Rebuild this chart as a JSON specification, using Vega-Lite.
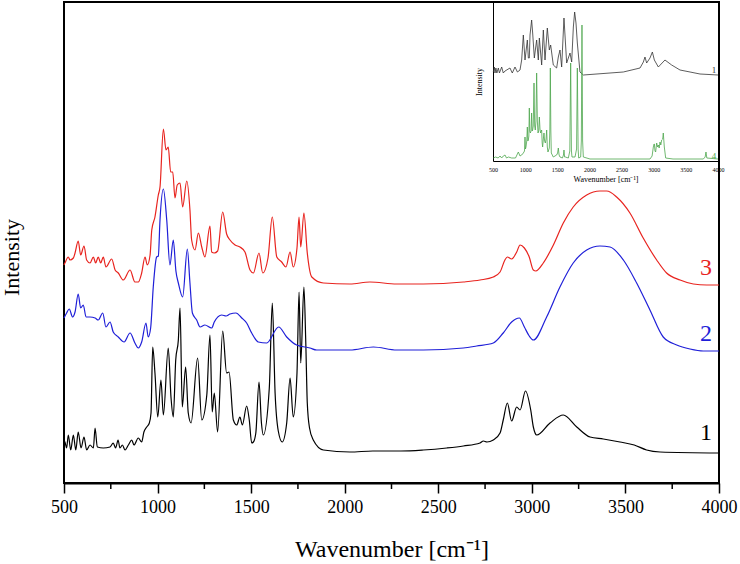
{
  "$schema": "https://vega.github.io/schema/vega-lite/v6.json",
  "width": 655,
  "height": 481,
  "autosize": "none",
  "padding": {"left": 64, "top": 2, "right": 21, "bottom": 81},
  "background": "white",
  "config": {
    "view": {"stroke": "black", "strokeWidth": 2},
    "axis": {"grid": false, "labelFont": "Liberation Serif", "titleFont": "Liberation Serif", "titleFontWeight": "normal", "labelColor": "black", "titleColor": "black"}
  },
  "datasets": {
    "minorticks": [{"wn":750},{"wn":1250},{"wn":1750},{"wn":2250},{"wn":2750},{"wn":3250},{"wn":3750}],
    "main": [
      {"s":"1","wn":500,"v":42},{"s":"1","wn":505,"v":41},{"s":"1","wn":514,"v":35},{"s":"1","wn":523,"v":48},{"s":"1","wn":536,"v":33},{"s":"1","wn":550,"v":48},{"s":"1","wn":563,"v":33},{"s":"1","wn":576,"v":51},{"s":"1","wn":591,"v":35},{"s":"1","wn":607,"v":46},{"s":"1","wn":621,"v":33},{"s":"1","wn":639,"v":38},{"s":"1","wn":657,"v":35},{"s":"1","wn":666,"v":55},{"s":"1","wn":678,"v":36},{"s":"1","wn":710,"v":35},{"s":"1","wn":746,"v":36},{"s":"1","wn":763,"v":40},{"s":"1","wn":776,"v":35},{"s":"1","wn":789,"v":43},{"s":"1","wn":799,"v":35},{"s":"1","wn":812,"v":38},{"s":"1","wn":826,"v":33},{"s":"1","wn":844,"v":38},{"s":"1","wn":862,"v":43},{"s":"1","wn":874,"v":38},{"s":"1","wn":897,"v":45},{"s":"1","wn":915,"v":41},{"s":"1","wn":927,"v":51},{"s":"1","wn":942,"v":56},{"s":"1","wn":956,"v":60},{"s":"1","wn":965,"v":70},{"s":"1","wn":974,"v":136},{"s":"1","wn":986,"v":110},{"s":"1","wn":1001,"v":66},{"s":"1","wn":1018,"v":103},{"s":"1","wn":1031,"v":68},{"s":"1","wn":1057,"v":135},{"s":"1","wn":1072,"v":85},{"s":"1","wn":1084,"v":66},{"s":"1","wn":1097,"v":123},{"s":"1","wn":1111,"v":143},{"s":"1","wn":1120,"v":175},{"s":"1","wn":1132,"v":76},{"s":"1","wn":1150,"v":116},{"s":"1","wn":1164,"v":70},{"s":"1","wn":1179,"v":60},{"s":"1","wn":1214,"v":125},{"s":"1","wn":1236,"v":63},{"s":"1","wn":1263,"v":88},{"s":"1","wn":1280,"v":148},{"s":"1","wn":1292,"v":71},{"s":"1","wn":1303,"v":90},{"s":"1","wn":1321,"v":51},{"s":"1","wn":1348,"v":152},{"s":"1","wn":1369,"v":110},{"s":"1","wn":1382,"v":111},{"s":"1","wn":1405,"v":63},{"s":"1","wn":1423,"v":58},{"s":"1","wn":1440,"v":66},{"s":"1","wn":1453,"v":58},{"s":"1","wn":1476,"v":77},{"s":"1","wn":1490,"v":63},{"s":"1","wn":1503,"v":40},{"s":"1","wn":1512,"v":41},{"s":"1","wn":1525,"v":50},{"s":"1","wn":1542,"v":101},{"s":"1","wn":1555,"v":60},{"s":"1","wn":1565,"v":48},{"s":"1","wn":1597,"v":95},{"s":"1","wn":1613,"v":180},{"s":"1","wn":1628,"v":90},{"s":"1","wn":1645,"v":52},{"s":"1","wn":1666,"v":41},{"s":"1","wn":1690,"v":60},{"s":"1","wn":1708,"v":105},{"s":"1","wn":1725,"v":66},{"s":"1","wn":1745,"v":110},{"s":"1","wn":1756,"v":191},{"s":"1","wn":1765,"v":120},{"s":"1","wn":1782,"v":196},{"s":"1","wn":1792,"v":140},{"s":"1","wn":1800,"v":80},{"s":"1","wn":1812,"v":55},{"s":"1","wn":1832,"v":43},{"s":"1","wn":1886,"v":33},{"s":"1","wn":2028,"v":31},{"s":"1","wn":2150,"v":32},{"s":"1","wn":2300,"v":32},{"s":"1","wn":2420,"v":33},{"s":"1","wn":2545,"v":35},{"s":"1","wn":2634,"v":37},{"s":"1","wn":2723,"v":40},{"s":"1","wn":2741,"v":42},{"s":"1","wn":2760,"v":41},{"s":"1","wn":2794,"v":43},{"s":"1","wn":2830,"v":50},{"s":"1","wn":2847,"v":63},{"s":"1","wn":2869,"v":80},{"s":"1","wn":2892,"v":62},{"s":"1","wn":2919,"v":76},{"s":"1","wn":2937,"v":73},{"s":"1","wn":2966,"v":92},{"s":"1","wn":2994,"v":73},{"s":"1","wn":3008,"v":56},{"s":"1","wn":3026,"v":48},{"s":"1","wn":3097,"v":60},{"s":"1","wn":3168,"v":68},{"s":"1","wn":3240,"v":56},{"s":"1","wn":3311,"v":46},{"s":"1","wn":3382,"v":44},{"s":"1","wn":3471,"v":41},{"s":"1","wn":3547,"v":38},{"s":"1","wn":3613,"v":33},{"s":"1","wn":3685,"v":31},{"s":"1","wn":4000,"v":30},

      {"s":"3","wn":500,"v":218},{"s":"3","wn":505,"v":220},{"s":"3","wn":523,"v":226},{"s":"3","wn":532,"v":223},{"s":"3","wn":550,"v":225},{"s":"3","wn":559,"v":230},{"s":"3","wn":576,"v":242},{"s":"3","wn":589,"v":228},{"s":"3","wn":607,"v":237},{"s":"3","wn":621,"v":223},{"s":"3","wn":639,"v":220},{"s":"3","wn":657,"v":226},{"s":"3","wn":669,"v":220},{"s":"3","wn":683,"v":226},{"s":"3","wn":696,"v":220},{"s":"3","wn":710,"v":226},{"s":"3","wn":724,"v":216},{"s":"3","wn":755,"v":224},{"s":"3","wn":773,"v":213},{"s":"3","wn":790,"v":210},{"s":"3","wn":817,"v":203},{"s":"3","wn":853,"v":213},{"s":"3","wn":879,"v":201},{"s":"3","wn":897,"v":201},{"s":"3","wn":915,"v":210},{"s":"3","wn":933,"v":226},{"s":"3","wn":945,"v":218},{"s":"3","wn":960,"v":228},{"s":"3","wn":969,"v":253},{"s":"3","wn":986,"v":266},{"s":"3","wn":1004,"v":288},{"s":"3","wn":1013,"v":296},{"s":"3","wn":1031,"v":354},{"s":"3","wn":1045,"v":333},{"s":"3","wn":1057,"v":336},{"s":"3","wn":1070,"v":311},{"s":"3","wn":1081,"v":311},{"s":"3","wn":1093,"v":285},{"s":"3","wn":1105,"v":298},{"s":"3","wn":1120,"v":300},{"s":"3","wn":1134,"v":276},{"s":"3","wn":1156,"v":302},{"s":"3","wn":1173,"v":273},{"s":"3","wn":1182,"v":243},{"s":"3","wn":1200,"v":233},{"s":"3","wn":1218,"v":250},{"s":"3","wn":1236,"v":236},{"s":"3","wn":1253,"v":226},{"s":"3","wn":1280,"v":257},{"s":"3","wn":1289,"v":231},{"s":"3","wn":1303,"v":230},{"s":"3","wn":1321,"v":232},{"s":"3","wn":1348,"v":271},{"s":"3","wn":1369,"v":249},{"s":"3","wn":1387,"v":243},{"s":"3","wn":1414,"v":238},{"s":"3","wn":1440,"v":236},{"s":"3","wn":1467,"v":231},{"s":"3","wn":1494,"v":213},{"s":"3","wn":1512,"v":210},{"s":"3","wn":1542,"v":230},{"s":"3","wn":1562,"v":210},{"s":"3","wn":1590,"v":225},{"s":"3","wn":1613,"v":266},{"s":"3","wn":1637,"v":226},{"s":"3","wn":1663,"v":221},{"s":"3","wn":1686,"v":216},{"s":"3","wn":1708,"v":231},{"s":"3","wn":1725,"v":216},{"s":"3","wn":1745,"v":235},{"s":"3","wn":1756,"v":266},{"s":"3","wn":1765,"v":236},{"s":"3","wn":1782,"v":270},{"s":"3","wn":1800,"v":230},{"s":"3","wn":1824,"v":206},{"s":"3","wn":1886,"v":200},{"s":"3","wn":2028,"v":199},{"s":"3","wn":2135,"v":201},{"s":"3","wn":2278,"v":199},{"s":"3","wn":2420,"v":199},{"s":"3","wn":2634,"v":201},{"s":"3","wn":2723,"v":203},{"s":"3","wn":2794,"v":206},{"s":"3","wn":2830,"v":211},{"s":"3","wn":2856,"v":223},{"s":"3","wn":2869,"v":226},{"s":"3","wn":2892,"v":224},{"s":"3","wn":2919,"v":231},{"s":"3","wn":2937,"v":238},{"s":"3","wn":2960,"v":235},{"s":"3","wn":2986,"v":226},{"s":"3","wn":3008,"v":213},{"s":"3","wn":3021,"v":212},{"s":"3","wn":3061,"v":220},{"s":"3","wn":3115,"v":238},{"s":"3","wn":3168,"v":260},{"s":"3","wn":3221,"v":276},{"s":"3","wn":3293,"v":288},{"s":"3","wn":3364,"v":292},{"s":"3","wn":3400,"v":292},{"s":"3","wn":3453,"v":286},{"s":"3","wn":3524,"v":270},{"s":"3","wn":3595,"v":245},{"s":"3","wn":3667,"v":223},{"s":"3","wn":3720,"v":210},{"s":"3","wn":3792,"v":203},{"s":"3","wn":3863,"v":199},{"s":"3","wn":3934,"v":198},{"s":"3","wn":4000,"v":198},

      {"s":"2","wn":500,"v":165},{"s":"2","wn":514,"v":170},{"s":"2","wn":528,"v":174},{"s":"2","wn":546,"v":166},{"s":"2","wn":559,"v":171},{"s":"2","wn":576,"v":189},{"s":"2","wn":589,"v":175},{"s":"2","wn":603,"v":178},{"s":"2","wn":618,"v":166},{"s":"2","wn":639,"v":166},{"s":"2","wn":666,"v":165},{"s":"2","wn":683,"v":163},{"s":"2","wn":707,"v":170},{"s":"2","wn":724,"v":156},{"s":"2","wn":746,"v":161},{"s":"2","wn":763,"v":151},{"s":"2","wn":790,"v":146},{"s":"2","wn":821,"v":141},{"s":"2","wn":853,"v":150},{"s":"2","wn":879,"v":140},{"s":"2","wn":897,"v":135},{"s":"2","wn":915,"v":141},{"s":"2","wn":938,"v":160},{"s":"2","wn":950,"v":146},{"s":"2","wn":963,"v":155},{"s":"2","wn":977,"v":196},{"s":"2","wn":995,"v":226},{"s":"2","wn":1004,"v":227},{"s":"2","wn":1013,"v":263},{"s":"2","wn":1031,"v":294},{"s":"2","wn":1049,"v":263},{"s":"2","wn":1066,"v":218},{"s":"2","wn":1084,"v":243},{"s":"2","wn":1098,"v":212},{"s":"2","wn":1111,"v":200},{"s":"2","wn":1134,"v":186},{"s":"2","wn":1159,"v":234},{"s":"2","wn":1173,"v":200},{"s":"2","wn":1186,"v":170},{"s":"2","wn":1209,"v":163},{"s":"2","wn":1227,"v":156},{"s":"2","wn":1253,"v":158},{"s":"2","wn":1289,"v":155},{"s":"2","wn":1303,"v":161},{"s":"2","wn":1343,"v":168},{"s":"2","wn":1366,"v":167},{"s":"2","wn":1387,"v":169},{"s":"2","wn":1419,"v":170},{"s":"2","wn":1450,"v":165},{"s":"2","wn":1476,"v":160},{"s":"2","wn":1503,"v":150},{"s":"2","wn":1538,"v":141},{"s":"2","wn":1583,"v":140},{"s":"2","wn":1647,"v":156},{"s":"2","wn":1690,"v":146},{"s":"2","wn":1743,"v":138},{"s":"2","wn":1814,"v":135},{"s":"2","wn":1850,"v":133},{"s":"2","wn":2028,"v":133},{"s":"2","wn":2153,"v":136},{"s":"2","wn":2278,"v":133},{"s":"2","wn":2420,"v":133},{"s":"2","wn":2634,"v":135},{"s":"2","wn":2705,"v":137},{"s":"2","wn":2794,"v":140},{"s":"2","wn":2847,"v":150},{"s":"2","wn":2892,"v":161},{"s":"2","wn":2933,"v":165},{"s":"2","wn":2960,"v":156},{"s":"2","wn":2986,"v":147},{"s":"2","wn":3008,"v":143},{"s":"2","wn":3079,"v":166},{"s":"2","wn":3150,"v":196},{"s":"2","wn":3221,"v":220},{"s":"2","wn":3293,"v":233},{"s":"2","wn":3364,"v":237},{"s":"2","wn":3418,"v":236},{"s":"2","wn":3489,"v":223},{"s":"2","wn":3560,"v":200},{"s":"2","wn":3631,"v":173},{"s":"2","wn":3702,"v":146},{"s":"2","wn":3774,"v":138},{"s":"2","wn":3845,"v":134},{"s":"2","wn":3916,"v":132},{"s":"2","wn":4000,"v":132}
    ],
    "labels": [
      {"s":"3","wn":3930,"v":215},{"s":"2","wn":3930,"v":149},{"s":"1","wn":3930,"v":50}
    ],
    "inset": [
      {"s":"1","wn":505,"v":89},{"s":"1","wn":520,"v":94},{"s":"1","wn":531,"v":88},{"s":"1","wn":545,"v":93},{"s":"1","wn":560,"v":88},{"s":"1","wn":583,"v":93},{"s":"1","wn":600,"v":88},{"s":"1","wn":635,"v":94},{"s":"1","wn":660,"v":88},{"s":"1","wn":687,"v":90},{"s":"1","wn":764,"v":93},{"s":"1","wn":800,"v":88},{"s":"1","wn":842,"v":94},{"s":"1","wn":880,"v":89},{"s":"1","wn":920,"v":91},{"s":"1","wn":946,"v":101},{"s":"1","wn":972,"v":126},{"s":"1","wn":998,"v":101},{"s":"1","wn":1034,"v":121},{"s":"1","wn":1050,"v":103},{"s":"1","wn":1065,"v":103},{"s":"1","wn":1076,"v":126},{"s":"1","wn":1101,"v":141},{"s":"1","wn":1117,"v":128},{"s":"1","wn":1143,"v":103},{"s":"1","wn":1179,"v":121},{"s":"1","wn":1205,"v":101},{"s":"1","wn":1221,"v":123},{"s":"1","wn":1257,"v":96},{"s":"1","wn":1283,"v":131},{"s":"1","wn":1309,"v":101},{"s":"1","wn":1345,"v":133},{"s":"1","wn":1376,"v":111},{"s":"1","wn":1397,"v":116},{"s":"1","wn":1438,"v":96},{"s":"1","wn":1490,"v":93},{"s":"1","wn":1516,"v":104},{"s":"1","wn":1542,"v":111},{"s":"1","wn":1568,"v":94},{"s":"1","wn":1604,"v":143},{"s":"1","wn":1646,"v":98},{"s":"1","wn":1698,"v":108},{"s":"1","wn":1724,"v":99},{"s":"1","wn":1750,"v":134},{"s":"1","wn":1770,"v":149},{"s":"1","wn":1791,"v":138},{"s":"1","wn":1812,"v":118},{"s":"1","wn":1853,"v":89},{"s":"1","wn":1905,"v":86},{"s":"1","wn":2527,"v":89},{"s":"1","wn":2787,"v":93},{"s":"1","wn":2839,"v":99},{"s":"1","wn":2864,"v":104},{"s":"1","wn":2890,"v":98},{"s":"1","wn":2942,"v":103},{"s":"1","wn":2979,"v":109},{"s":"1","wn":3010,"v":101},{"s":"1","wn":3072,"v":94},{"s":"1","wn":3175,"v":101},{"s":"1","wn":3279,"v":96},{"s":"1","wn":3409,"v":91},{"s":"1","wn":3565,"v":89},{"s":"1","wn":3720,"v":87},{"s":"1","wn":4000,"v":86},

      {"s":"4","wn":505,"v":3},{"s":"4","wn":540,"v":4},{"s":"4","wn":580,"v":3},{"s":"4","wn":610,"v":5},{"s":"4","wn":635,"v":3},{"s":"4","wn":660,"v":5},{"s":"4","wn":687,"v":6},{"s":"4","wn":710,"v":3},{"s":"4","wn":740,"v":4},{"s":"4","wn":790,"v":3},{"s":"4","wn":850,"v":3},{"s":"4","wn":894,"v":9},{"s":"4","wn":920,"v":5},{"s":"4","wn":946,"v":6},{"s":"4","wn":972,"v":8},{"s":"4","wn":990,"v":10},{"s":"4","wn":998,"v":24},{"s":"4","wn":1005,"v":12},{"s":"4","wn":1013,"v":14},{"s":"4","wn":1025,"v":20},{"s":"4","wn":1034,"v":34},{"s":"4","wn":1042,"v":20},{"s":"4","wn":1050,"v":21},{"s":"4","wn":1058,"v":25},{"s":"4","wn":1065,"v":53},{"s":"4","wn":1072,"v":30},{"s":"4","wn":1081,"v":28},{"s":"4","wn":1092,"v":30},{"s":"4","wn":1101,"v":48},{"s":"4","wn":1110,"v":30},{"s":"4","wn":1117,"v":31},{"s":"4","wn":1126,"v":35},{"s":"4","wn":1138,"v":78},{"s":"4","wn":1148,"v":35},{"s":"4","wn":1158,"v":31},{"s":"4","wn":1168,"v":40},{"s":"4","wn":1179,"v":88},{"s":"4","wn":1190,"v":40},{"s":"4","wn":1200,"v":28},{"s":"4","wn":1211,"v":30},{"s":"4","wn":1221,"v":44},{"s":"4","wn":1231,"v":32},{"s":"4","wn":1241,"v":28},{"s":"4","wn":1250,"v":30},{"s":"4","wn":1257,"v":31},{"s":"4","wn":1265,"v":18},{"s":"4","wn":1272,"v":14},{"s":"4","wn":1283,"v":22},{"s":"4","wn":1293,"v":28},{"s":"4","wn":1303,"v":20},{"s":"4","wn":1314,"v":18},{"s":"4","wn":1325,"v":22},{"s":"4","wn":1335,"v":31},{"s":"4","wn":1345,"v":14},{"s":"4","wn":1355,"v":9},{"s":"4","wn":1366,"v":11},{"s":"4","wn":1376,"v":13},{"s":"4","wn":1384,"v":30},{"s":"4","wn":1392,"v":93},{"s":"4","wn":1400,"v":30},{"s":"4","wn":1407,"v":8},{"s":"4","wn":1438,"v":4},{"s":"4","wn":1490,"v":6},{"s":"4","wn":1505,"v":8},{"s":"4","wn":1516,"v":13},{"s":"4","wn":1528,"v":6},{"s":"4","wn":1542,"v":4},{"s":"4","wn":1580,"v":3},{"s":"4","wn":1596,"v":6},{"s":"4","wn":1604,"v":11},{"s":"4","wn":1614,"v":4},{"s":"4","wn":1625,"v":4},{"s":"4","wn":1672,"v":3},{"s":"4","wn":1695,"v":10},{"s":"4","wn":1708,"v":98},{"s":"4","wn":1720,"v":10},{"s":"4","wn":1729,"v":4},{"s":"4","wn":1776,"v":4},{"s":"4","wn":1800,"v":12},{"s":"4","wn":1812,"v":93},{"s":"4","wn":1824,"v":12},{"s":"4","wn":1833,"v":3},{"s":"4","wn":1864,"v":4},{"s":"4","wn":1874,"v":20},{"s":"4","wn":1884,"v":136},{"s":"4","wn":1894,"v":20},{"s":"4","wn":1905,"v":4},{"s":"4","wn":2009,"v":2},{"s":"4","wn":2942,"v":2},{"s":"4","wn":2975,"v":5},{"s":"4","wn":2994,"v":14},{"s":"4","wn":3005,"v":17},{"s":"4","wn":3010,"v":17},{"s":"4","wn":3020,"v":10},{"s":"4","wn":3030,"v":9},{"s":"4","wn":3046,"v":18},{"s":"4","wn":3060,"v":14},{"s":"4","wn":3072,"v":16},{"s":"4","wn":3085,"v":13},{"s":"4","wn":3098,"v":19},{"s":"4","wn":3110,"v":16},{"s":"4","wn":3124,"v":21},{"s":"4","wn":3140,"v":22},{"s":"4","wn":3149,"v":28},{"s":"4","wn":3158,"v":20},{"s":"4","wn":3165,"v":14},{"s":"4","wn":3186,"v":3},{"s":"4","wn":3300,"v":2},{"s":"4","wn":3772,"v":2},{"s":"4","wn":3800,"v":4},{"s":"4","wn":3813,"v":9},{"s":"4","wn":3826,"v":3},{"s":"4","wn":4000,"v":2}
    ],
    "insetlabels": [
      {"s":"1","wn":3938,"v":91},{"s":"4","wn":3938,"v":5}
    ]
  },
  "layer": [
    {
      "layer": [
        {
          "data": {"name": "inset"},
          "mark": {"type": "line", "strokeWidth": 0.8},
          "encoding": {
            "x": {"field": "wn", "type": "quantitative",
              "scale": {"domain": [500, 4000], "range": [429, 654], "nice": false, "zero": false},
              "axis": {"orient": "bottom", "offset": -322, "values": [500,1000,1500,2000,2500,3000,3500,4000],
                "format": "d", "labelFontSize": 6, "labelPadding": 5, "labelFlush": false, "labelOverlap": false,
                "ticks": false, "domainColor": "#000000", "domainWidth": 1,
                "title": "Wavenumber [cm⁻¹]", "titleFontSize": 8, "titlePadding": 3}},
            "y": {"field": "v", "type": "quantitative",
              "scale": {"domain": [0, 159], "range": [159, 0], "nice": false, "zero": false},
              "axis": {"orient": "left", "offset": -429, "labels": false, "ticks": false,
                "domainColor": "#000000", "domainWidth": 1, "title": "Intensity", "titleFontSize": 8, "titlePadding": 10}},
            "color": {"field": "s", "type": "nominal",
              "scale": {"domain": ["1", "4"], "range": ["#333333", "#4ca64c"]}, "legend": null}
          }
        },
        {
          "data": {"name": "insetlabels"},
          "mark": {"type": "text", "fontSize": 9, "font": "Liberation Serif", "align": "center", "baseline": "middle"},
          "encoding": {
            "x": {"field": "wn", "type": "quantitative"},
            "y": {"field": "v", "type": "quantitative"},
            "text": {"field": "s"},
            "color": {"field": "s", "type": "nominal", "legend": null}
          }
        }
      ]
    },
    {
      "layer": [
        {
          "data": {"name": "main"},
          "mark": {"type": "line", "strokeWidth": 1.2, "interpolate": "monotone"},
          "encoding": {
            "x": {"field": "wn", "type": "quantitative",
              "scale": {"domain": [500, 4000], "nice": false, "zero": false},
              "axis": {"orient": "bottom", "values": [500,1000,1500,2000,2500,3000,3500,4000],
                "format": "d",
                "labelFontSize": 18, "labelPadding": 5, "labelFlush": false, "labelOverlap": false,
                "ticks": true, "tickColor": "#000000", "tickWidth": 1.5, "tickSize": 10,
                "domain": true, "domainColor": "#000000", "domainWidth": 2,
                "title": "Wavenumber [cm⁻¹]", "titleFontSize": 24, "titleBaseline": "alphabetic", "titleY": 73}},
            "y": {"field": "v", "type": "quantitative",
              "scale": {"domain": [0, 481], "nice": false, "zero": false},
              "axis": {"orient": "left", "labels": false, "ticks": false, "domain": false, "title": "Intensity",
                "titleFontSize": 22, "titleX": -53, "titleY": 255, "titleAngle": -90, "titleAlign": "center", "titleBaseline": "middle"}},
            "color": {"field": "s", "type": "nominal",
              "scale": {"domain": ["1", "2", "3"], "range": ["#000000", "#1f1fd8", "#e8241f"]}, "legend": null}
          }
        },
        {
          "data": {"name": "minorticks"},
          "mark": {"type": "rule", "color": "#000000", "strokeWidth": 1.5, "clip": false},
          "encoding": {
            "x": {"field": "wn", "type": "quantitative"},
            "y": {"datum": 0, "type": "quantitative"},
            "y2": {"datum": -6}
          }
        },
        {
          "data": {"name": "labels"},
          "mark": {"type": "text", "fontSize": 24, "font": "Liberation Serif", "align": "center", "baseline": "middle"},
          "encoding": {
            "x": {"field": "wn", "type": "quantitative"},
            "y": {"field": "v", "type": "quantitative"},
            "text": {"field": "s"},
            "color": {"field": "s", "type": "nominal", "legend": null}
          }
        }
      ]
    }
  ],
  "resolve": {"scale": {"x": "independent", "y": "independent", "color": "independent"}}
}
